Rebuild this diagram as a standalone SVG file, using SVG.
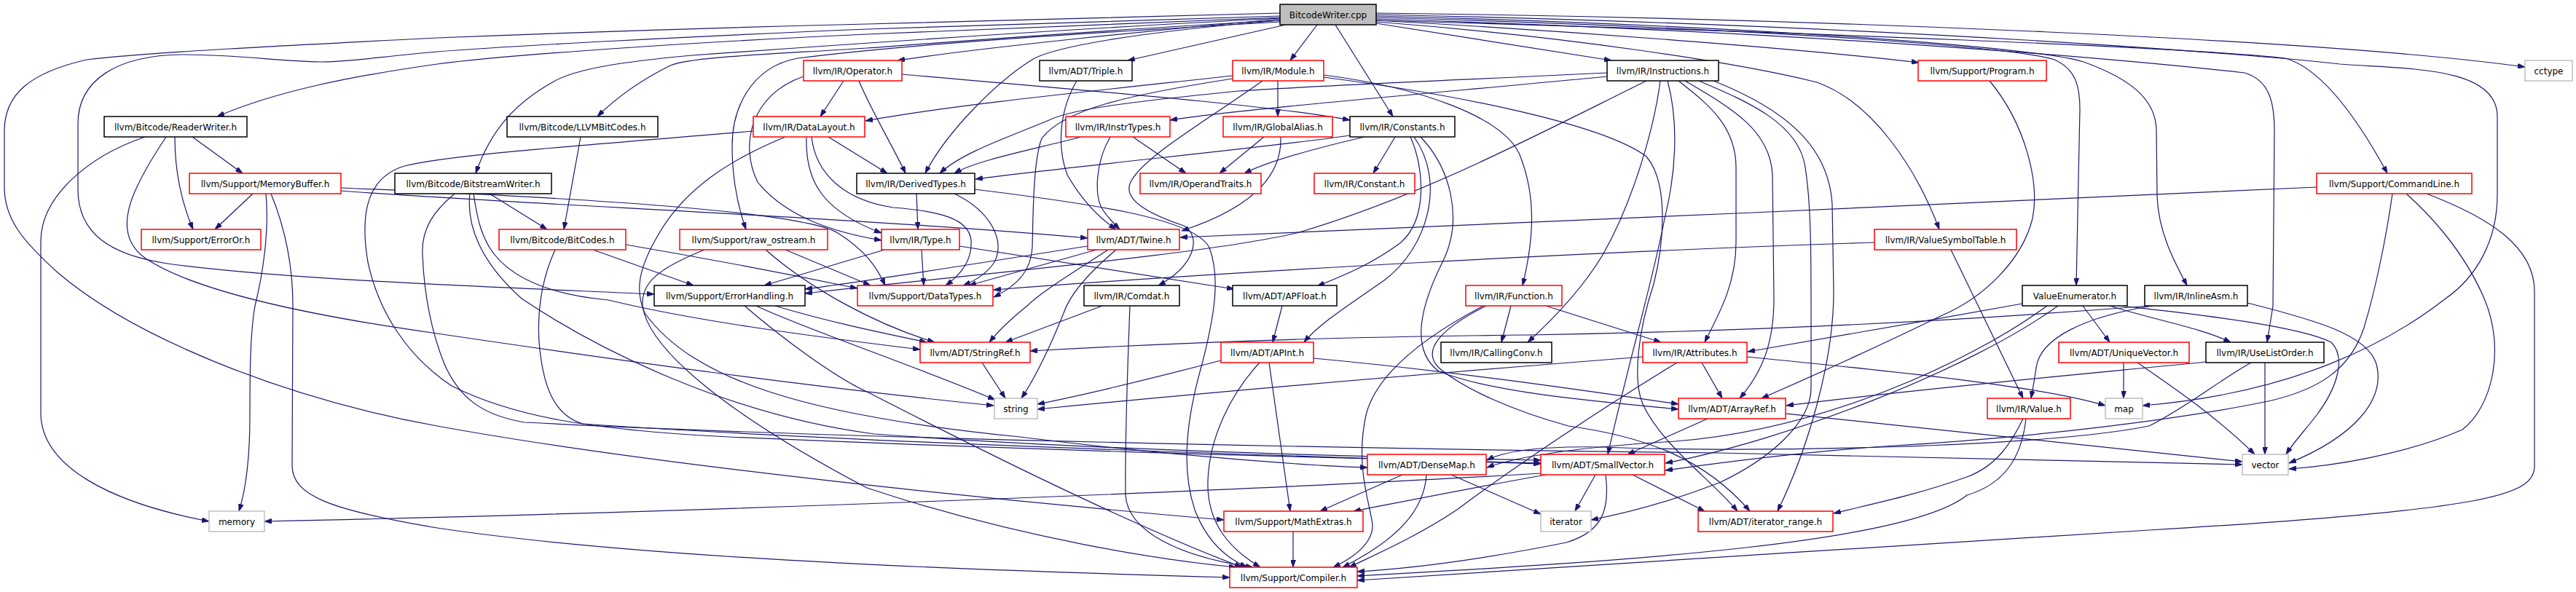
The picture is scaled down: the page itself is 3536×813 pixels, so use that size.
<svg xmlns="http://www.w3.org/2000/svg" width="3536" height="813" viewBox="0 0 3536 813">
<style>
.n rect{fill:#fff;stroke-width:1.5}
.b rect{stroke:#000}
.r rect{stroke:#f00}
.g rect{stroke:#bfbfbf}
.root rect{fill:#bfbfbf;stroke:#000}
text{font-family:"DejaVu Sans","Liberation Sans",sans-serif;font-size:12px;text-anchor:middle;fill:#000}
#edges path{fill:none;stroke:#191970;stroke-width:1.2;marker-end:url(#ah)}
</style>
<defs>
<marker id="ah" viewBox="0 0 10 7" refX="10" refY="3.5" markerWidth="10" markerHeight="7" markerUnits="userSpaceOnUse" orient="auto">
<path d="M0,0 L10,3.5 L0,7 z" fill="#191970" stroke="#191970" stroke-width="0.8"/>
</marker>
</defs>
<rect x="0" y="0" width="3536" height="813" fill="#fff"/>
<g id="edges">
<path d="M1757,24 C1500,35 1300,42 1190,47 C950,58 700,75 600,88 C480,105 380,125 298,160"/>
<path d="M1757,25 C1500,38 1200,58 950,76 C850,85 790,95 760,112 C710,140 675,175 653,238"/>
<path d="M1757,28 C1500,42 1300,58 1190,66 C1050,75 950,78 920,90 C880,110 845,135 820,160"/>
<path d="M1757,30 C1500,45 1250,60 1095,80 C1030,92 1005,150 1005,200 C1005,250 1015,290 1024,315"/>
<path d="M1757,22 C1500,30 1300,36 1190,40 C950,50 700,63 600,71 C520,78 480,85 440,85 C380,84 330,75 250,75 C160,76 107,110 107,170 L107,260 C107,320 150,350 230,362 C400,385 700,395 898,404"/>
<path d="M1757,18 C1500,24 1300,30 1190,33 C900,40 700,48 600,52 C400,62 200,72 119,82 C40,100 6,130 6,180 L6,257 C6,300 30,330 80,375 C180,460 380,545 600,585 C900,640 1400,690 1680,714"/>
<path d="M1757,26 C1600,40 1350,65 1232,83"/>
<path d="M1757,28 C1550,45 1450,65 1420,80 C1370,110 1300,180 1270,238"/>
<path d="M1765,34 L1548,83"/>
<path d="M1808,34 L1771,83"/>
<path d="M1833,34 L1912,160"/>
<path d="M1889,32 L2212,83"/>
<path d="M1889,28 C2200,45 2500,70 2634,86"/>
<path d="M1889,30 C2150,50 2380,85 2494,113 C2570,140 2630,230 2662,315"/>
<path d="M1889,24 C2300,35 2750,60 2820,82 C2850,95 2855,120 2855,150 L2850,392"/>
<path d="M1889,22 C2400,35 2800,65 2860,85 C2930,110 2960,140 2960,180 L2961,270 C2963,320 2985,360 3002,392"/>
<path d="M1889,26 C2500,45 2900,80 3081,100 C3115,110 3122,140 3122,180 L3120,420 L3112,470"/>
<path d="M1889,18 C2500,25 3200,55 3466,92"/>
<path d="M1889,28 C2500,45 3000,65 3137,80 C3190,95 3240,170 3277,238"/>
<path d="M1889,20 C2600,35 3100,75 3212,88 C3300,95 3428,90 3428,160 L3428,267 C3428,330 3400,380 3357,410 C3280,470 3150,540 2941,557"/>
<path d="M240,188 C240,240 250,280 265,315"/>
<path d="M264,188 L333,238"/>
<path d="M199,188 C120,215 57,270 56,330 L56,567 C56,640 150,690 287,716"/>
<path d="M228,188 C180,260 150,320 200,355 C260,395 400,430 600,458 C850,495 1100,530 1364,557"/>
<path d="M347,266 L295,315"/>
<path d="M365,266 C370,320 360,380 350,420 C343,460 343,520 343,570 C343,640 335,680 328,702"/>
<path d="M372,266 C390,310 402,360 402,420 L401,640 C402,680 450,700 600,725 C900,770 1400,785 1688,793"/>
<path d="M468,262 C700,280 1200,300 1493,327"/>
<path d="M468,258 C800,272 1100,290 1150,320 C1190,345 1205,370 1215,392"/>
<path d="M672,266 L751,315"/>
<path d="M645,266 C640,310 660,360 716,410 C820,480 1000,570 1200,596 C1500,618 1900,628 2115,632"/>
<path d="M650,266 C655,300 660,320 672,340 C700,385 760,405 835,412 C950,440 1100,460 1263,480"/>
<path d="M624,266 C595,290 578,315 580,350 C582,400 590,450 610,500 C630,545 660,570 720,580 C1200,605 2000,618 2360,622 C2700,628 2950,634 3078,638"/>
<path d="M797,188 L774,315"/>
<path d="M814,343 L952,392"/>
<path d="M859,336 C1000,360 1100,380 1177,396"/>
<path d="M762,343 C745,380 737,420 740,470 C745,530 760,570 800,582 C1200,610 1900,630 2115,637"/>
<path d="M1051,343 C1110,395 1200,445 1283,470"/>
<path d="M967,343 C900,370 880,390 882,420 C890,480 1000,570 1190,670 C1400,740 1600,770 1697,779"/>
<path d="M1078,343 L1195,392"/>
<path d="M1064,420 C1130,440 1200,455 1272,470"/>
<path d="M1022,420 C1080,470 1150,520 1190,538 C1350,620 1550,720 1705,779"/>
<path d="M1038,420 C1100,450 1250,500 1366,549"/>
<path d="M1238,102 C1500,125 1750,145 1853,165"/>
<path d="M1158,111 L1126,160"/>
<path d="M1179,111 C1195,150 1225,200 1243,238"/>
<path d="M1103,105 C1030,130 1015,200 1040,250 C1080,300 1150,320 1210,330"/>
<path d="M1078,188 C1000,220 940,260 905,320 C875,370 872,400 885,430 C950,520 1100,570 1400,600 C1600,625 1800,640 1877,642"/>
<path d="M1034,180 C800,200 620,212 555,228 C500,245 495,300 505,360 C520,430 560,490 620,530 C700,570 800,590 1000,600 C1500,622 1900,630 2115,636"/>
<path d="M1137,188 L1218,238"/>
<path d="M1107,188 C1105,250 1130,290 1210,320"/>
<path d="M1114,188 C1120,240 1160,275 1226,285 C1290,290 1330,300 1333,330 C1335,360 1315,380 1298,392"/>
<path d="M1258,266 L1260,315"/>
<path d="M1310,266 C1360,290 1380,330 1365,360 C1355,375 1340,385 1322,392"/>
<path d="M1338,260 C1500,280 1640,300 1660,340 C1675,380 1668,430 1650,500 C1630,570 1620,640 1640,700 C1655,740 1680,765 1712,779"/>
<path d="M1317,338 L1694,397"/>
<path d="M1265,343 L1268,392"/>
<path d="M1214,343 L1049,392"/>
<path d="M1478,111 C1455,150 1450,200 1465,240 C1485,275 1510,300 1532,315"/>
<path d="M1484,188 C1420,205 1340,220 1310,238"/>
<path d="M1555,188 L1628,238"/>
<path d="M1524,188 C1505,220 1500,270 1515,290 C1522,300 1530,308 1537,315"/>
<path d="M1735,188 L1674,238"/>
<path d="M1758,188 C1760,240 1720,285 1622,317"/>
<path d="M1754,111 L1754,160"/>
<path d="M1733,111 C1650,170 1570,215 1552,250 C1540,275 1580,295 1625,310 C1650,325 1640,365 1590,392"/>
<path d="M1692,104 C1500,125 1300,145 1188,166"/>
<path d="M1817,103 C1950,120 2060,160 2085,210 C2110,270 2105,330 2090,392"/>
<path d="M1817,106 C2000,130 2200,170 2260,215 C2290,250 2285,330 2270,390 C2250,450 2240,520 2255,555 C2280,610 2350,660 2385,702"/>
<path d="M1692,108 C1550,130 1460,150 1430,190 C1418,220 1418,300 1417,340 C1415,370 1400,390 1364,408"/>
<path d="M1915,188 L1885,238"/>
<path d="M1853,186 C1720,205 1500,225 1339,246"/>
<path d="M1873,188 C1800,205 1740,222 1708,238"/>
<path d="M1936,188 C1955,230 1960,300 1923,333 C1880,365 1840,380 1808,393"/>
<path d="M1941,188 C1985,250 1960,340 1900,385 C1850,420 1810,445 1790,470"/>
<path d="M1950,188 C1990,230 2010,300 1980,360 C1950,420 1935,480 1975,510 C2050,540 2200,552 2304,562"/>
<path d="M2206,105 C2000,125 1700,150 1606,165"/>
<path d="M2206,100 C2000,110 1800,118 1700,125 C1550,140 1470,150 1440,165 C1380,190 1320,210 1290,238"/>
<path d="M2260,111 C2100,190 1950,270 1780,320 C1650,350 1350,375 1105,403"/>
<path d="M2279,111 C2270,180 2240,280 2200,350 C2170,400 2130,440 2097,470"/>
<path d="M2289,111 C2305,170 2300,240 2285,300 C2270,380 2240,480 2207,624"/>
<path d="M2304,111 C2340,140 2383,170 2383,230 L2383,333 C2383,390 2360,430 2340,470"/>
<path d="M2313,111 C2380,150 2430,180 2433,240 L2435,410 C2435,470 2420,510 2388,547"/>
<path d="M2332,111 C2400,140 2470,170 2478,230 C2486,280 2486,350 2486,420 L2486,533 C2486,580 2430,630 2360,663 C2290,690 2230,705 2184,714"/>
<path d="M2352,111 C2450,150 2510,200 2515,280 L2517,400 C2517,500 2480,620 2440,702"/>
<path d="M1505,343 L1330,392"/>
<path d="M1521,343 C1480,370 1430,400 1410,420 C1385,440 1370,455 1358,470"/>
<path d="M1532,343 C1500,370 1470,400 1460,430 C1440,480 1420,520 1402,547"/>
<path d="M1493,338 C1350,360 1200,385 1105,397"/>
<path d="M1513,420 L1380,470"/>
<path d="M1551,420 C1548,500 1544,600 1545,680 C1548,730 1620,765 1720,779"/>
<path d="M1760,420 L1747,470"/>
<path d="M2036,420 C1960,460 1890,510 1875,570 C1860,640 1880,690 1884,720 C1885,745 1860,765 1830,779"/>
<path d="M2040,420 C1980,450 1950,480 1975,505 C2010,535 2080,565 2153,585 C2260,600 2340,630 2402,702"/>
<path d="M2074,420 L2061,470"/>
<path d="M2122,420 L2280,470"/>
<path d="M1348,498 L1380,547"/>
<path d="M1803,492 C2000,510 2200,540 2304,555"/>
<path d="M1729,498 C1690,540 1660,600 1658,660 C1656,720 1690,755 1730,779"/>
<path d="M1742,498 L1771,702"/>
<path d="M1676,495 C1580,520 1500,540 1424,555"/>
<path d="M2678,343 L2777,547"/>
<path d="M2573,333 C2200,345 1700,372 1364,398"/>
<path d="M2731,111 C2780,170 2800,250 2790,300 C2775,360 2720,410 2666,433 C2590,470 2480,520 2418,547"/>
<path d="M2776,417 C2650,440 2500,465 2399,483"/>
<path d="M2810,420 C2700,500 2500,590 2300,606 C2150,615 2080,628 2041,642"/>
<path d="M2825,420 C2700,510 2450,605 2286,636"/>
<path d="M2859,420 L2896,470"/>
<path d="M2896,420 C2960,440 3020,450 3062,470"/>
<path d="M2912,420 C2980,428 3150,445 3200,470 C3220,490 3210,530 3180,570 C3165,590 3150,605 3138,624"/>
<path d="M2950,420 C2700,440 2400,455 2100,460 C1900,462 1700,466 1414,482"/>
<path d="M2955,420 C2860,435 2800,465 2795,505 C2793,520 2790,535 2788,547"/>
<path d="M3085,416 C3180,440 3250,460 3262,500 C3275,550 3230,600 3142,636"/>
<path d="M2915,498 L2915,547"/>
<path d="M2934,498 C2980,530 3040,570 3095,624"/>
<path d="M3028,497 C2900,510 2650,532 2452,557"/>
<path d="M3090,498 C3050,520 3000,560 2950,585 C2800,615 2400,622 2200,614 C2100,612 2060,622 2041,632"/>
<path d="M3109,498 L3109,624"/>
<path d="M3180,257 C2800,275 2000,310 1620,326"/>
<path d="M3284,266 C3275,330 3260,400 3245,450 C3225,510 3180,535 3118,550 C3000,575 2800,600 2600,612 C2450,622 2330,640 2286,646"/>
<path d="M3303,266 C3330,290 3380,340 3410,410 C3440,480 3420,560 3380,590 C3300,625 3200,640 3142,644"/>
<path d="M3331,266 C3420,300 3479,340 3479,400 L3479,640 C3479,680 3420,700 2950,728 C2600,750 2200,775 1863,797"/>
<path d="M2336,498 L2364,547"/>
<path d="M2398,490 C2600,510 2800,530 2890,557"/>
<path d="M2255,490 C2000,510 1700,535 1424,562"/>
<path d="M2302,498 C2200,560 2080,640 2000,700 C1940,740 1880,765 1852,779"/>
<path d="M2344,575 L2234,624"/>
<path d="M2451,568 C2700,595 2950,622 3078,634"/>
<path d="M2777,575 C2760,610 2740,640 2700,655 C2630,680 2570,692 2517,705"/>
<path d="M2781,575 C2775,630 2750,665 2700,680 C2620,745 2250,770 1863,791"/>
<path d="M1925,652 L1812,702"/>
<path d="M1958,652 C1955,700 1920,740 1843,779"/>
<path d="M1992,652 L2115,706"/>
<path d="M2115,650 C1700,675 900,705 363,716"/>
<path d="M2122,652 C2020,670 1920,690 1858,702"/>
<path d="M2190,652 L2162,702"/>
<path d="M2204,652 C2210,700 2200,730 2150,745 C2050,765 1950,780 1863,785"/>
<path d="M2241,652 L2340,702"/>
<path d="M1775,730 L1775,779"/>
</g>
<g id="n-root" class="n root"><rect x="1757" y="6" width="132" height="28"/><text x="1823" y="24.5">BitcodeWriter.cpp</text></g>
<g id="n-readerwriter" class="n b"><rect x="143" y="160" width="196" height="28"/><text x="241" y="178.5">llvm/Bitcode/ReaderWriter.h</text></g>
<g id="n-memorybuffer" class="n r"><rect x="260" y="238" width="208" height="28"/><text x="364" y="256.5">llvm/Support/MemoryBuffer.h</text></g>
<g id="n-erroror" class="n r"><rect x="194" y="315" width="164" height="28"/><text x="276" y="333.5">llvm/Support/ErrorOr.h</text></g>
<g id="n-bitstreamwriter" class="n b"><rect x="542" y="238" width="215" height="28"/><text x="649.5" y="256.5">llvm/Bitcode/BitstreamWriter.h</text></g>
<g id="n-llvmbitcodes" class="n b"><rect x="696" y="160" width="207" height="28"/><text x="799.5" y="178.5">llvm/Bitcode/LLVMBitCodes.h</text></g>
<g id="n-bitcodes" class="n r"><rect x="685" y="315" width="174" height="28"/><text x="772" y="333.5">llvm/Bitcode/BitCodes.h</text></g>
<g id="n-raw_ostream" class="n r"><rect x="933" y="315" width="203" height="28"/><text x="1034.5" y="333.5">llvm/Support/raw_ostream.h</text></g>
<g id="n-errorhandling" class="n b"><rect x="898" y="392" width="207" height="28"/><text x="1001.5" y="410.5">llvm/Support/ErrorHandling.h</text></g>
<g id="n-operator" class="n r"><rect x="1103" y="83" width="135" height="28"/><text x="1170.5" y="101.5">llvm/IR/Operator.h</text></g>
<g id="n-datalayout" class="n r"><rect x="1034" y="160" width="153" height="28"/><text x="1110.5" y="178.5">llvm/IR/DataLayout.h</text></g>
<g id="n-derivedtypes" class="n b"><rect x="1176" y="238" width="162" height="28"/><text x="1257" y="256.5">llvm/IR/DerivedTypes.h</text></g>
<g id="n-type" class="n r"><rect x="1210" y="315" width="107" height="28"/><text x="1263.5" y="333.5">llvm/IR/Type.h</text></g>
<g id="n-datatypes" class="n r"><rect x="1177" y="392" width="186" height="28"/><text x="1270" y="410.5">llvm/Support/DataTypes.h</text></g>
<g id="n-triple" class="n b"><rect x="1427" y="83" width="127" height="28"/><text x="1490.5" y="101.5">llvm/ADT/Triple.h</text></g>
<g id="n-instrtypes" class="n r"><rect x="1463" y="160" width="143" height="28"/><text x="1534.5" y="178.5">llvm/IR/InstrTypes.h</text></g>
<g id="n-globalalias" class="n r"><rect x="1679" y="160" width="150" height="28"/><text x="1754" y="178.5">llvm/IR/GlobalAlias.h</text></g>
<g id="n-module" class="n r"><rect x="1692" y="83" width="125" height="28"/><text x="1754.5" y="101.5">llvm/IR/Module.h</text></g>
<g id="n-operandtraits" class="n r"><rect x="1565" y="238" width="166" height="28"/><text x="1648" y="256.5">llvm/IR/OperandTraits.h</text></g>
<g id="n-twine" class="n r"><rect x="1493" y="315" width="126" height="28"/><text x="1556" y="333.5">llvm/ADT/Twine.h</text></g>
<g id="n-comdat" class="n b"><rect x="1488" y="392" width="131" height="28"/><text x="1553.5" y="410.5">llvm/IR/Comdat.h</text></g>
<g id="n-apfloat" class="n b"><rect x="1692" y="392" width="143" height="28"/><text x="1763.5" y="410.5">llvm/ADT/APFloat.h</text></g>
<g id="n-instructions" class="n b"><rect x="2206" y="83" width="153" height="28"/><text x="2282.5" y="101.5">llvm/IR/Instructions.h</text></g>
<g id="n-constants" class="n b"><rect x="1853" y="160" width="144" height="28"/><text x="1925" y="178.5">llvm/IR/Constants.h</text></g>
<g id="n-constant" class="n r"><rect x="1804" y="238" width="138" height="28"/><text x="1873" y="256.5">llvm/IR/Constant.h</text></g>
<g id="n-function" class="n r"><rect x="2012" y="392" width="132" height="28"/><text x="2078" y="410.5">llvm/IR/Function.h</text></g>
<g id="n-program" class="n r"><rect x="2633" y="83" width="176" height="28"/><text x="2721" y="101.5">llvm/Support/Program.h</text></g>
<g id="n-valuesymboltable" class="n r"><rect x="2573" y="315" width="195" height="28"/><text x="2670.5" y="333.5">llvm/IR/ValueSymbolTable.h</text></g>
<g id="n-valueenumerator" class="n b"><rect x="2776" y="392" width="144" height="28"/><text x="2848" y="410.5">ValueEnumerator.h</text></g>
<g id="n-inlineasm" class="n b"><rect x="2944" y="392" width="141" height="28"/><text x="3014.5" y="410.5">llvm/IR/InlineAsm.h</text></g>
<g id="n-cctype" class="n g"><rect x="3466" y="83" width="65" height="28"/><text x="3498.5" y="101.5">cctype</text></g>
<g id="n-commandline" class="n r"><rect x="3180" y="238" width="213" height="28"/><text x="3286.5" y="256.5">llvm/Support/CommandLine.h</text></g>
<g id="n-stringref" class="n r"><rect x="1263" y="470" width="151" height="28"/><text x="1338.5" y="488.5">llvm/ADT/StringRef.h</text></g>
<g id="n-string" class="n g"><rect x="1365" y="547" width="59" height="28"/><text x="1394.5" y="565.5">string</text></g>
<g id="n-apint" class="n r"><rect x="1676" y="470" width="127" height="28"/><text x="1739.5" y="488.5">llvm/ADT/APInt.h</text></g>
<g id="n-mathextras" class="n r"><rect x="1680" y="702" width="191" height="28"/><text x="1775.5" y="720.5">llvm/Support/MathExtras.h</text></g>
<g id="n-compiler" class="n r"><rect x="1688" y="779" width="175" height="28"/><text x="1775.5" y="797.5">llvm/Support/Compiler.h</text></g>
<g id="n-callingconv" class="n b"><rect x="1978" y="470" width="152" height="28"/><text x="2054" y="488.5">llvm/IR/CallingConv.h</text></g>
<g id="n-attributes" class="n r"><rect x="2255" y="470" width="143" height="28"/><text x="2326.5" y="488.5">llvm/IR/Attributes.h</text></g>
<g id="n-arrayref" class="n r"><rect x="2304" y="547" width="147" height="28"/><text x="2377.5" y="565.5">llvm/ADT/ArrayRef.h</text></g>
<g id="n-densemap" class="n r"><rect x="1877" y="624" width="163" height="28"/><text x="1958.5" y="642.5">llvm/ADT/DenseMap.h</text></g>
<g id="n-smallvector" class="n r"><rect x="2115" y="624" width="170" height="28"/><text x="2200" y="642.5">llvm/ADT/SmallVector.h</text></g>
<g id="n-iterator" class="n g"><rect x="2115" y="702" width="69" height="28"/><text x="2149.5" y="720.5">iterator</text></g>
<g id="n-iterator_range" class="n r"><rect x="2331" y="702" width="185" height="28"/><text x="2423.5" y="720.5">llvm/ADT/iterator_range.h</text></g>
<g id="n-value" class="n r"><rect x="2728" y="547" width="114" height="28"/><text x="2785" y="565.5">llvm/IR/Value.h</text></g>
<g id="n-map" class="n g"><rect x="2890" y="547" width="51" height="28"/><text x="2915.5" y="565.5">map</text></g>
<g id="n-uniquevector" class="n r"><rect x="2826" y="470" width="179" height="28"/><text x="2915.5" y="488.5">llvm/ADT/UniqueVector.h</text></g>
<g id="n-uselistorder" class="n b"><rect x="3028" y="470" width="162" height="28"/><text x="3109" y="488.5">llvm/IR/UseListOrder.h</text></g>
<g id="n-vector" class="n g"><rect x="3078" y="624" width="63" height="28"/><text x="3109.5" y="642.5">vector</text></g>
<g id="n-memory" class="n g"><rect x="287" y="702" width="76" height="28"/><text x="325" y="720.5">memory</text></g>
</svg>
